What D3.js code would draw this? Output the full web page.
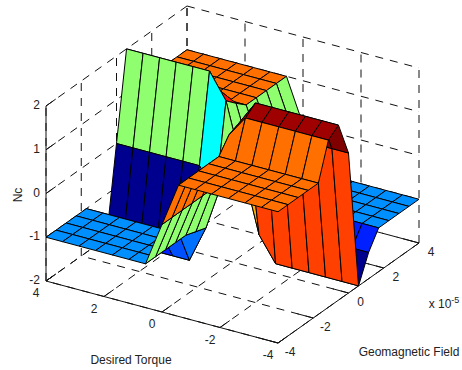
<!DOCTYPE html>
<html>
<head>
<meta charset="utf-8">
<script src="https://d3js.org/d3.v7.min.js"></script>
<style>
  html, body { margin: 0; padding: 0; background: #fff; }
  svg { display: block; }
  text { font-family: "Liberation Sans", Arial, sans-serif; font-size: 12px; fill: #222; }
</style>
</head>
<body>
<div id="chart"></div>
<script>
// ticks
const torqueTicks = [4, 2, 0, -2, -4]
const geoTicks = [-4, -2, 0, 2, 4]
const ncTicks = [-2, -1, 0, 1, 2]

// grid the surface is sampled on (15 x 15)
const torqueGrid = [4, 3.43, 2.86, 2.29, 1.71, 1.14, 0.57, 0, -0.57, -1.14, -1.71, -2.29, -2.86, -3.43, -4]
const geoGrid = [-4, -3.43, -2.86, -2.29, -1.71, -1.14, -0.57, 0, 0.57, 1.14, 1.71, 2.29, 2.86, 3.43, 4]

// Nc values, one row per torque value
const ncRows = [
	[-1, -1, -1, -1, -1, -1.4, -2, 0, 2, 1.4, 1, 1, 1, 1, 1],
	[-1, -1, -1, -1, -1, -1.4, -2, 0, 2, 1.4, 1, 1, 1, 1, 1],
	[-1, -1, -1, -1, -1, -1.4, -2, 0, 2, 1.4, 1, 1, 1, 1, 1],
	[-1, -1, -1, -1, -1, -1.4, -2, 0, 2, 1.4, 1, 1, 1, 1, 1],
	[-1, -1, -1, -1, -1, -1.4, -2, 0, 2, 1.4, 1, 1, 1, 1, 1],
	[-1, -1, -1, -1, -1, -1.25, -2, 0, 2, 1.4, 1, 1, 1, 1, 1],
	[-1, -1, -1, -1, -1, -1.08, -1.16, -0.52, 1.42, 1.2, 1, 1, 1, 1, 1],
	[0, 0, 0, 0, 0, 0, 0, 0, 0, 0, 0, 0, 0, 0, 0],
	[1, 1, 1, 1, 1, 1.33, 1.44, 0.75, -1.44, -1.2, -1, -1, -1, -1, -1],
	[1, 1, 1, 1, 1, 1.82, 2, 1.2, -2, -1.4, -1, -1, -1, -1, -1],
	[1, 1, 1, 1, 1, 1.82, 2, 1.2, -2, -1.4, -1, -1, -1, -1, -1],
	[1, 1, 1, 1, 1, 1.82, 2, 1.2, -2, -1.4, -1, -1, -1, -1, -1],
	[1, 1, 1, 1, 1, 1.82, 2, 1.2, -2, -1.4, -1, -1, -1, -1, -1],
	[1, 1, 1, 1, 1, 1.82, 2, 1.2, -2, -1.4, -1, -1, -1, -1, -1],
	[1, 1, 1, 1, 1, 1.82, 2, 1.2, -2, -1.4, -1, -1, -1, -1, -1]
]

const width = 462
const height = 370
const originX = 46
const originY = 281

// oblique projection, each data axis adds its own screen offset
const torqueX = d3.scaleLinear().domain([4, -4]).range([0, 232])
const torqueY = d3.scaleLinear().domain([4, -4]).range([0, 62])
const geoX = d3.scaleLinear().domain([-4, 4]).range([0, 141])
const geoY = d3.scaleLinear().domain([-4, 4]).range([0, -100])
const ncY = d3.scaleLinear().domain([-2, 2]).range([0, -175])

const project = (t, g, z) => [
	originX + torqueX(t) + geoX(g),
	originY + torqueY(t) + geoY(g) + ncY(z)
]

// matlab jet, 64 steps
const jet = d3.range(1, 65).map(r => {
	const red = r <= 24 ? 0 : r <= 40 ? (r - 24) / 16 : r <= 56 ? 1 : 1 - (r - 56) / 16
	const green = r <= 8 ? 0 : r <= 24 ? (r - 8) / 16 : r <= 40 ? 1 : r <= 56 ? 1 - (r - 40) / 16 : 0
	const blue = r <= 8 ? 0.5 + r / 16 : r <= 24 ? 1 : r <= 40 ? 1 - (r - 24) / 16 : 0
	return d3.rgb(red * 255, green * 255, blue * 255).formatHex()
})
const colorScale = d3.scaleQuantize().domain([-2, 2]).range(jet)

const svg = d3.select('#chart')
	.append('svg')
	.attr('width', width)
	.attr('height', height)

const line = d3.line()

// dashed grid on the floor and the two back walls
const gridLines = []
geoTicks.forEach(g => {
	gridLines.push([project(-4, g, -2), project(4, g, -2)])
	gridLines.push([project(4, g, -2), project(4, g, 2)])
})
torqueTicks.forEach(t => {
	gridLines.push([project(t, -4, -2), project(t, 4, -2)])
	gridLines.push([project(t, 4, -2), project(t, 4, 2)])
})
ncTicks.forEach(z => {
	gridLines.push([project(4, -4, z), project(4, 4, z)])
	gridLines.push([project(4, 4, z), project(-4, 4, z)])
})

svg.append('g')
	.selectAll('path')
	.data(gridLines)
	.enter()
	.append('path')
	.attr('d', d => line(d))
	.attr('fill', 'none')
	.attr('stroke', '#111')
	.attr('stroke-width', 1)
	.attr('stroke-dasharray', '8,7')

// solid box edges
const boxEdges = [
	[project(4, -4, -2), project(4, -4, 2)],
	[project(4, -4, -2), project(-4, -4, -2)],
	[project(-4, -4, -2), project(-4, 4, -2)]
]
svg.append('g')
	.selectAll('path')
	.data(boxEdges)
	.enter()
	.append('path')
	.attr('d', d => line(d))
	.attr('fill', 'none')
	.attr('stroke', '#111')
	.attr('stroke-width', 1)

// tick marks
const tickLen = 0.55
const tickMarks = []
torqueTicks.forEach(t => tickMarks.push([project(t, -4, -2), project(t, -4 + tickLen, -2)]))
geoTicks.forEach(g => tickMarks.push([project(-4, g, -2), project(-4 + tickLen, g, -2)]))
ncTicks.forEach(z => tickMarks.push([project(4, -4, z), project(4, -4 + tickLen, z)]))
svg.append('g')
	.selectAll('path')
	.data(tickMarks)
	.enter()
	.append('path')
	.attr('d', d => line(d))
	.attr('stroke', '#111')
	.attr('stroke-width', 1)

// faces go back to front, so the nearer ones cover the rest
const cells = []
d3.range(torqueGrid.length - 1).forEach(i => {
	d3.range(geoGrid.length - 2, -1, -1).forEach(j => {
		const corner = (a, b) => project(torqueGrid[a], geoGrid[b], ncRows[a][b])
		cells.push({
			points: [corner(i, j), corner(i + 1, j), corner(i + 1, j + 1), corner(i, j + 1)],
			value: ncRows[i + 1][j]
		})
	})
})

svg.append('g')
	.selectAll('path')
	.data(cells)
	.enter()
	.append('path')
	.attr('d', d => line(d.points) + 'Z')
	.attr('fill', d => colorScale(d.value))
	.attr('stroke', '#000')
	.attr('stroke-width', 1)
	.attr('stroke-linejoin', 'round')

// tick labels
const addLabel = (x, y, str, anchor) => svg.append('text')
	.attr('x', x)
	.attr('y', y)
	.attr('text-anchor', anchor || 'middle')
	.attr('dominant-baseline', 'central')
	.text(str)

torqueTicks.forEach(t => {
	const p = project(t, -4, -2)
	addLabel(p[0] - 10, p[1] + 12, d3.format('d')(t).replace('−', '-'))
})
geoTicks.forEach(g => {
	const p = project(-4, g, -2)
	addLabel(p[0] + 12, p[1] + 9, d3.format('d')(g).replace('−', '-'))
})
ncTicks.forEach(z => {
	const p = project(4, -4, z)
	addLabel(p[0] - 6, p[1] - 1, d3.format('d')(z).replace('−', '-'), 'end')
})

// axis titles
addLabel(131, 360, 'Desired Torque')
addLabel(409, 352, 'Geomagnetic Field')
svg.append('text')
	.attr('transform', 'translate(18,195) rotate(-90)')
	.attr('text-anchor', 'middle')
	.attr('dominant-baseline', 'central')
	.text('Nc')

// exponent note
svg.append('text')
	.attr('x', 444)
	.attr('y', 304)
	.attr('text-anchor', 'middle')
	.attr('dominant-baseline', 'central')
	.html('x 10<tspan dy="-4" font-size="9">-5</tspan>')
</script>
</body>
</html>
